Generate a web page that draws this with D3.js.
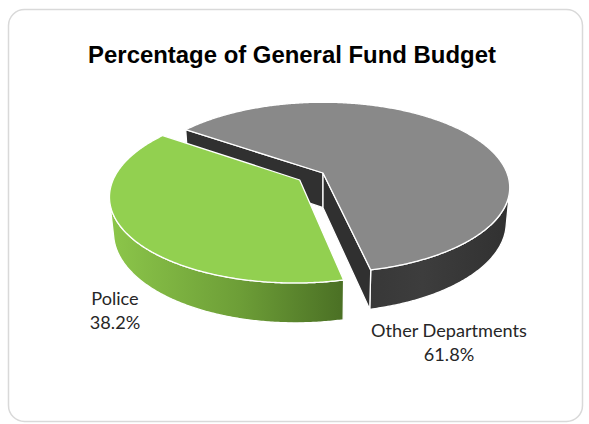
<!DOCTYPE html>
<html>
<head>
<meta charset="utf-8">
<script src="https://cdn.jsdelivr.net/npm/d3@7"></script>
<style>
  html, body { margin: 0; padding: 0; background: #ffffff; }
  svg { display: block; }
</style>
</head>
<body>
<script>
// ---------------- data ----------------
const categories = ["Police", "Other Departments"];
const values = [38.2, 61.8];
const percentLabels = ["38.2%", "61.8%"];
const explodeAmounts = [0.15, 0];
const chartTitle = "Percentage of General Fund Budget";

// ---------------- layout / style ----------------
const W = 589, H = 424;
const topColors = ["#92d050", "#898989"];
const radialWallColors = ["#5d8a2e", "#303030"];
const firstSliceAngle = 167.5; // degrees, clockwise from 12 o'clock

// 3D projection parameters
const S = 184;           // pixels per radius
const sinPhi = 0.45, cosPhi = Math.sqrt(1 - sinPhi * sinPhi);
const Dcam = 5.25;       // camera distance (radius units)
const CX = 323, CY = 173; // screen position of the pie top centre
const HT = 0.215;        // pie thickness (radius units)

function proj(x, y, z) { // x right, y up (0 = top face), z toward viewer
  const Yc = y * cosPhi - z * sinPhi;
  const dist = Dcam - (z * cosPhi + y * sinPhi);
  const f = Dcam / dist;
  return [CX + S * x * f, CY - S * Yc * f];
}
const camZ = Dcam * cosPhi;

const svg = d3.select("body").append("svg")
  .attr("width", W).attr("height", H);

const defs = svg.append("defs");
const gGreen = defs.append("linearGradient").attr("id", "sideGreen")
  .attr("gradientUnits", "userSpaceOnUse")
  .attr("x1", 110).attr("y1", 0).attr("x2", 345).attr("y2", 0);
gGreen.append("stop").attr("offset", "0%").attr("stop-color", "#8cc64a");
gGreen.append("stop").attr("offset", "55%").attr("stop-color", "#6d9e37");
gGreen.append("stop").attr("offset", "100%").attr("stop-color", "#4a6f24");
const gGray = defs.append("linearGradient").attr("id", "sideGray")
  .attr("gradientUnits", "userSpaceOnUse")
  .attr("x1", 330).attr("y1", 0).attr("x2", 515).attr("y2", 0);
gGray.append("stop").attr("offset", "0%").attr("stop-color", "#343434");
gGray.append("stop").attr("offset", "50%").attr("stop-color", "#3d3d3d");
gGray.append("stop").attr("offset", "100%").attr("stop-color", "#303030");
const sideFills = ["url(#sideGreen)", "url(#sideGray)"];

// card
svg.append("rect")
  .attr("x", 8.5).attr("y", 9.5)
  .attr("width", 574).attr("height", 412)
  .attr("rx", 16).attr("ry", 16)
  .attr("fill", "#ffffff")
  .attr("stroke", "#d9d9d9").attr("stroke-width", 1.5);

// title
function fitSize(sel, target) {
  sel.style("font-size", "20px");
  const w = sel.node().getComputedTextLength();
  return 20 * target / w;
}
const title = svg.append("text")
  .attr("x", 292).attr("y", 63)
  .attr("text-anchor", "middle")
  .style("font-family", "'Liberation Sans', Arial, sans-serif")
  .style("font-weight", "bold")
  .attr("fill", "#000000")
  .text(chartTitle);
title.style("font-size", fitSize(title, 408) + "px");

// ---------------- pie ----------------
const a0 = firstSliceAngle * Math.PI / 180;
const pie = d3.pie().sort(null).startAngle(a0).endAngle(a0 + 2 * Math.PI);
const arcs = pie(values).map((d, i) => {
  const t0 = d.startAngle - Math.PI / 2, t1 = d.endAngle - Math.PI / 2;
  const mid = (t0 + t1) / 2;
  return {
    i, t0, t1, mid,
    ox: explodeAmounts[i] * Math.cos(mid),
    oz: explodeAmounts[i] * Math.sin(mid)
  };
});

// draw back slices first
const order = arcs.slice().sort((a, b) => Math.sin(a.mid) - Math.sin(b.mid));
const line = d3.line();
const gPie = svg.append("g");

order.forEach(s => {
  const P = (t, y) => proj(s.ox + Math.cos(t), y, s.oz + Math.sin(t));
  const n = Math.max(2, Math.ceil((s.t1 - s.t0) / (Math.PI / 360)));
  const ts = d3.range(n + 1).map(k => s.t0 + (s.t1 - s.t0) * k / n);

  // outer wall: front-facing part only
  const facing = t => (-s.ox * Math.cos(t) - 1 + Math.sin(t) * (camZ - s.oz)) > -0.02;
  const vis = ts.filter(facing);
  if (vis.length > 1) {
    const pts = vis.map(t => P(t, 0)).concat(vis.slice().reverse().map(t => P(t, -HT)));
    gPie.append("path")
      .attr("d", line(pts) + "Z")
      .attr("fill", sideFills[s.i])
      .attr("stroke", "#ffffff").attr("stroke-width", 1.3)
      .attr("stroke-linejoin", "round");
  }

  // radial walls
  [[s.t0, s.t0 - Math.PI / 2], [s.t1, s.t1 + Math.PI / 2]].forEach(([t, nAng]) => {
    const v = Math.cos(nAng) * (0 - s.ox) + Math.sin(nAng) * (camZ - s.oz);
    if (v <= 0) return;
    const c0 = proj(s.ox, 0, s.oz), c1 = proj(s.ox, -HT, s.oz);
    const pts = [c0, P(t, 0), P(t, -HT), c1];
    gPie.append("path")
      .attr("d", line(pts) + "Z")
      .attr("fill", radialWallColors[s.i])
      .attr("stroke", "#ffffff").attr("stroke-width", 1.3)
      .attr("stroke-linejoin", "round");
  });

  // top face
  const topPts = [proj(s.ox, 0, s.oz)].concat(ts.map(t => P(t, 0)));
  gPie.append("path")
    .attr("d", line(topPts) + "Z")
    .attr("fill", topColors[s.i])
    .attr("stroke", "#ffffff").attr("stroke-width", 1.3)
    .attr("stroke-linejoin", "round");
});

// ---------------- labels ----------------
const labelPos = [[115, 305], [449, 337]];
const labelFont = "Lato, 'Open Sans', sans-serif";
const probe = svg.append("text").style("font-family", labelFont).text(categories[1]);
const labelSize = fitSize(probe, 156);
probe.remove();
const lineGap = 24;
categories.forEach((c, i) => {
  const t = svg.append("text")
    .attr("x", labelPos[i][0]).attr("y", labelPos[i][1])
    .attr("text-anchor", "middle")
    .style("font-family", labelFont)
    .style("font-size", labelSize + "px")
    .attr("fill", "#262626");
  t.append("tspan").attr("x", labelPos[i][0]).text(c);
  t.append("tspan").attr("x", labelPos[i][0]).attr("dy", lineGap).text(percentLabels[i]);
});
</script>
</body>
</html>
